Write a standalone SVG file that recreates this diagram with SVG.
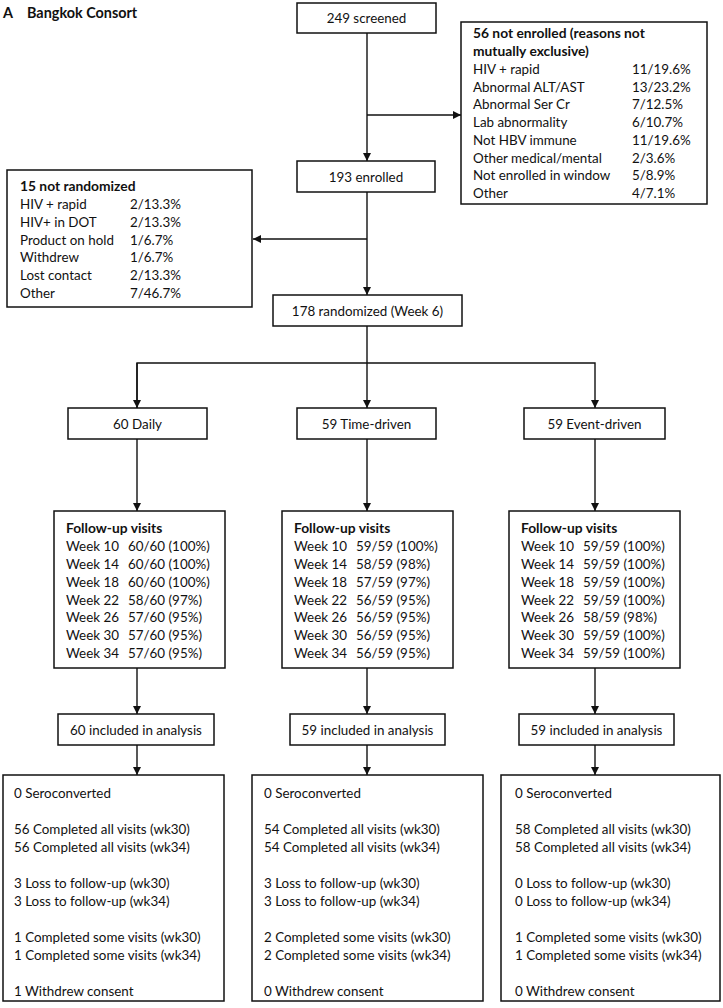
<svg xmlns="http://www.w3.org/2000/svg" width="723" height="1008" viewBox="0 0 723 1008">
<style>
text{font-family:Lato,"Liberation Sans",sans-serif;font-size:13.4px;fill:#111}
.b{font-weight:bold;font-size:13.8px}
.t{font-weight:bold;font-size:14.4px}
.c{text-anchor:middle}
.box{fill:#fff;stroke:#111;stroke-width:1.5}
.ln{fill:none;stroke:#111;stroke-width:1.4}
</style>
<defs>
<marker id="ah" viewBox="0 0 10 10" refX="10" refY="5" markerWidth="6" markerHeight="6" orient="auto" markerUnits="strokeWidth"><path d="M0,0L10,5L0,10z" fill="#111"/></marker>
</defs>
<rect width="723" height="1008" fill="#fff"/>
<text class="t" x="3" y="18">A</text>
<text class="t" x="27" y="18">Bangkok Consort</text>

<g id="connectors">
<line class="ln" x1="367" y1="33" x2="367" y2="161" marker-end="url(#ah)"/>
<line class="ln" x1="367" y1="115" x2="461" y2="115" marker-end="url(#ah)"/>
<line class="ln" x1="367" y1="192" x2="367" y2="295" marker-end="url(#ah)"/>
<line class="ln" x1="367" y1="239" x2="253" y2="239" marker-end="url(#ah)"/>
<line class="ln" x1="367" y1="326" x2="367" y2="408" marker-end="url(#ah)"/>
<polyline class="ln" points="137,408 137,363 595,363 595,408" marker-end="url(#ah)"/>
<line class="ln" x1="137" y1="363" x2="137" y2="408" marker-end="url(#ah)"/>
<line class="ln" x1="137" y1="439" x2="137" y2="511" marker-end="url(#ah)"/>
<line class="ln" x1="367" y1="439" x2="367" y2="511" marker-end="url(#ah)"/>
<line class="ln" x1="595" y1="439" x2="595" y2="511" marker-end="url(#ah)"/>
<line class="ln" x1="137" y1="668" x2="137" y2="714" marker-end="url(#ah)"/>
<line class="ln" x1="367" y1="668" x2="367" y2="714" marker-end="url(#ah)"/>
<line class="ln" x1="595" y1="668" x2="595" y2="714" marker-end="url(#ah)"/>
<line class="ln" x1="137" y1="745" x2="137" y2="775" marker-end="url(#ah)"/>
<line class="ln" x1="367" y1="745" x2="367" y2="775" marker-end="url(#ah)"/>
<line class="ln" x1="595" y1="745" x2="595" y2="775" marker-end="url(#ah)"/>
</g>

<g id="screened">
<rect class="box" x="297" y="3" width="139" height="30"/>
<text class="c" x="366.5" y="23">249 screened</text>
</g>

<g id="not-enrolled">
<rect class="box" x="461" y="22" width="246" height="182"/>
<text class="b" x="473" y="38">56 not enrolled (reasons not</text>
<text class="b" x="473" y="56">mutually exclusive)</text>
<text x="473" y="74">HIV + rapid</text><text x="632" y="74">11/19.6%</text>
<text x="473" y="92">Abnormal ALT/AST</text><text x="632" y="92">13/23.2%</text>
<text x="473" y="109">Abnormal Ser Cr</text><text x="632" y="109">7/12.5%</text>
<text x="473" y="127">Lab abnormality</text><text x="632" y="127">6/10.7%</text>
<text x="473" y="145">Not HBV immune</text><text x="632" y="145">11/19.6%</text>
<text x="473" y="163">Other medical/mental</text><text x="632" y="163">2/3.6%</text>
<text x="473" y="180">Not enrolled in window</text><text x="632" y="180">5/8.9%</text>
<text x="473" y="198">Other</text><text x="632" y="198">4/7.1%</text>
</g>

<g id="enrolled">
<rect class="box" x="297" y="161" width="138" height="31"/>
<text class="c" x="366" y="182">193 enrolled</text>
</g>

<g id="not-randomized">
<rect class="box" x="7" y="170" width="245" height="137"/>
<text class="b" x="20" y="191">15 not randomized</text>
<text x="20" y="209">HIV + rapid</text><text x="130" y="209">2/13.3%</text>
<text x="20" y="227">HIV+ in DOT</text><text x="130" y="227">2/13.3%</text>
<text x="20" y="245">Product on hold</text><text x="130" y="245">1/6.7%</text>
<text x="20" y="262">Withdrew</text><text x="130" y="262">1/6.7%</text>
<text x="20" y="280">Lost contact</text><text x="130" y="280">2/13.3%</text>
<text x="20" y="298">Other</text><text x="130" y="298">7/46.7%</text>
</g>

<g id="randomized">
<rect class="box" x="273" y="295" width="189" height="31"/>
<text class="c" x="367.5" y="316">178 randomized (Week 6)</text>
</g>

<g id="daily">
<rect class="box" x="68" y="408" width="139" height="31"/>
<text class="c" x="137.5" y="429">60 Daily</text>
</g>
<g id="time-driven">
<rect class="box" x="297" y="408" width="139" height="31"/>
<text class="c" x="366.5" y="429">59 Time-driven</text>
</g>
<g id="event-driven">
<rect class="box" x="524" y="408" width="141" height="31"/>
<text class="c" x="594.5" y="429">59 Event-driven</text>
</g>

<g id="fu-daily">
<rect class="box" x="54" y="511" width="171" height="157"/>
<text class="b" x="66" y="533">Follow-up visits</text>
<text x="66" y="551">Week 10</text><text x="128" y="551">60/60 (100%)</text>
<text x="66" y="569">Week 14</text><text x="128" y="569">60/60 (100%)</text>
<text x="66" y="587">Week 18</text><text x="128" y="587">60/60 (100%)</text>
<text x="66" y="605">Week 22</text><text x="128" y="605">58/60 (97%)</text>
<text x="66" y="622">Week 26</text><text x="128" y="622">57/60 (95%)</text>
<text x="66" y="640">Week 30</text><text x="128" y="640">57/60 (95%)</text>
<text x="66" y="658">Week 34</text><text x="128" y="658">57/60 (95%)</text>
</g>
<g id="fu-time">
<rect class="box" x="282" y="511" width="171" height="157"/>
<text class="b" x="294" y="533">Follow-up visits</text>
<text x="294" y="551">Week 10</text><text x="356" y="551">59/59 (100%)</text>
<text x="294" y="569">Week 14</text><text x="356" y="569">58/59 (98%)</text>
<text x="294" y="587">Week 18</text><text x="356" y="587">57/59 (97%)</text>
<text x="294" y="605">Week 22</text><text x="356" y="605">56/59 (95%)</text>
<text x="294" y="622">Week 26</text><text x="356" y="622">56/59 (95%)</text>
<text x="294" y="640">Week 30</text><text x="356" y="640">56/59 (95%)</text>
<text x="294" y="658">Week 34</text><text x="356" y="658">56/59 (95%)</text>
</g>
<g id="fu-event">
<rect class="box" x="509" y="511" width="171" height="157"/>
<text class="b" x="521" y="533">Follow-up visits</text>
<text x="521" y="551">Week 10</text><text x="583" y="551">59/59 (100%)</text>
<text x="521" y="569">Week 14</text><text x="583" y="569">59/59 (100%)</text>
<text x="521" y="587">Week 18</text><text x="583" y="587">59/59 (100%)</text>
<text x="521" y="605">Week 22</text><text x="583" y="605">59/59 (100%)</text>
<text x="521" y="622">Week 26</text><text x="583" y="622">58/59 (98%)</text>
<text x="521" y="640">Week 30</text><text x="583" y="640">59/59 (100%)</text>
<text x="521" y="658">Week 34</text><text x="583" y="658">59/59 (100%)</text>
</g>

<g id="incl-daily">
<rect class="box" x="58" y="714" width="156" height="31"/>
<text class="c" x="136" y="735">60 included in analysis</text>
</g>
<g id="incl-time">
<rect class="box" x="290" y="714" width="155" height="31"/>
<text class="c" x="367.5" y="735">59 included in analysis</text>
</g>
<g id="incl-event">
<rect class="box" x="519" y="714" width="155" height="31"/>
<text class="c" x="596.5" y="735">59 included in analysis</text>
</g>

<g id="out-daily">
<rect class="box" x="3" y="775" width="221" height="226"/>
<text x="14" y="798">0 Seroconverted</text>
<text x="14" y="834">56 Completed all visits (wk30)</text>
<text x="14" y="852">56 Completed all visits (wk34)</text>
<text x="14" y="888">3 Loss to follow-up (wk30)</text>
<text x="14" y="906">3 Loss to follow-up (wk34)</text>
<text x="14" y="942">1 Completed some visits (wk30)</text>
<text x="14" y="960">1 Completed some visits (wk34)</text>
<text x="14" y="996">1 Withdrew consent</text>
</g>
<g id="out-time">
<rect class="box" x="252" y="775" width="231" height="226"/>
<text x="264" y="798">0 Seroconverted</text>
<text x="264" y="834">54 Completed all visits (wk30)</text>
<text x="264" y="852">54 Completed all visits (wk34)</text>
<text x="264" y="888">3 Loss to follow-up (wk30)</text>
<text x="264" y="906">3 Loss to follow-up (wk34)</text>
<text x="264" y="942">2 Completed some visits (wk30)</text>
<text x="264" y="960">2 Completed some visits (wk34)</text>
<text x="264" y="996">0 Withdrew consent</text>
</g>
<g id="out-event">
<rect class="box" x="501" y="775" width="219" height="226"/>
<text x="515" y="798">0 Seroconverted</text>
<text x="515" y="834">58 Completed all visits (wk30)</text>
<text x="515" y="852">58 Completed all visits (wk34)</text>
<text x="515" y="888">0 Loss to follow-up (wk30)</text>
<text x="515" y="906">0 Loss to follow-up (wk34)</text>
<text x="515" y="942">1 Completed some visits (wk30)</text>
<text x="515" y="960">1 Completed some visits (wk34)</text>
<text x="515" y="996">0 Withdrew consent</text>
</g>
</svg>
